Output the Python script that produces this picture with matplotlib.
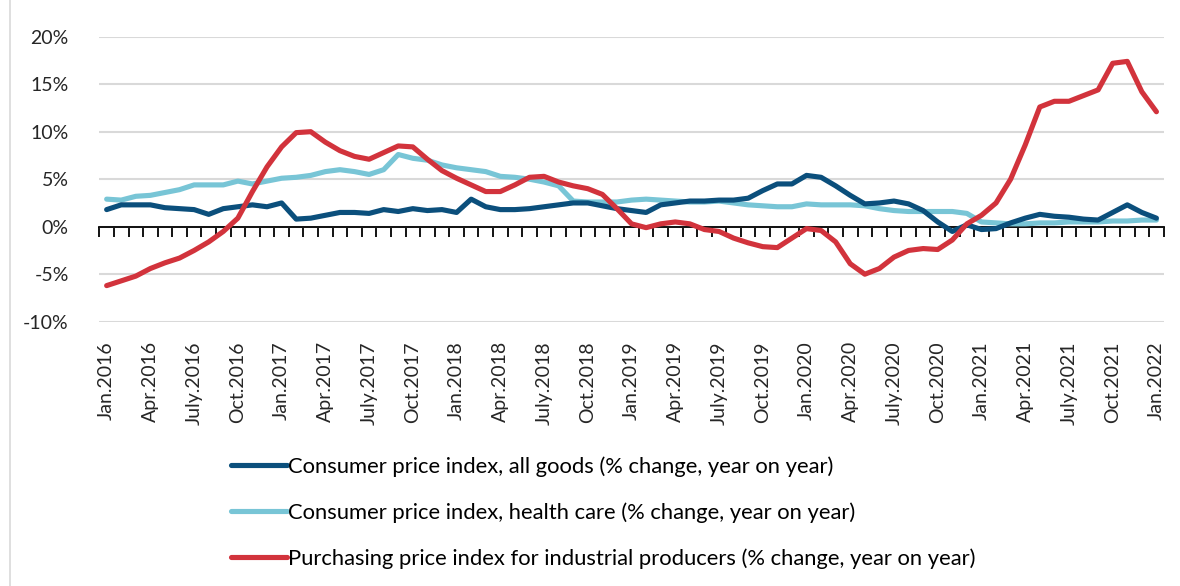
import matplotlib
matplotlib.use('Agg')
import matplotlib.pyplot as plt
import numpy as np
from matplotlib.lines import Line2D

# 月度数据: 2016年1月 - 2022年1月
cpi_all = [1.8, 2.3, 2.3, 2.3, 2.0, 1.9, 1.8, 1.3, 1.9, 2.1, 2.3, 2.1,
           2.5, 0.8, 0.9, 1.2, 1.5, 1.5, 1.4, 1.8, 1.6, 1.9, 1.7, 1.8,
           1.5, 2.9, 2.1, 1.8, 1.8, 1.9, 2.1, 2.3, 2.5, 2.5, 2.2, 1.9,
           1.7, 1.5, 2.3, 2.5, 2.7, 2.7, 2.8, 2.8, 3.0, 3.8, 4.5, 4.5,
           5.4, 5.2, 4.3, 3.3, 2.4, 2.5, 2.7, 2.4, 1.7, 0.5, -0.5, 0.2,
           -0.3, -0.2, 0.4, 0.9, 1.3, 1.1, 1.0, 0.8, 0.7, 1.5, 2.3, 1.5,
           0.9]
cpi_health = [2.9, 2.8, 3.2, 3.3, 3.6, 3.9, 4.4, 4.4, 4.4, 4.8, 4.5, 4.8,
              5.1, 5.2, 5.4, 5.8, 6.0, 5.8, 5.5, 6.0, 7.6, 7.2, 7.0, 6.5,
              6.2, 6.0, 5.8, 5.3, 5.2, 5.0, 4.7, 4.3, 2.7, 2.6, 2.6, 2.6,
              2.8, 2.9, 2.8, 2.7, 2.6, 2.6, 2.7, 2.5, 2.3, 2.2, 2.1, 2.1,
              2.4, 2.3, 2.3, 2.3, 2.2, 1.9, 1.7, 1.6, 1.6, 1.6, 1.6, 1.4,
              0.5, 0.4, 0.3, 0.3, 0.4, 0.4, 0.5, 0.5, 0.5, 0.6, 0.6, 0.7,
              0.7]
ppirm = [-6.2, -5.7, -5.2, -4.4, -3.8, -3.3, -2.5, -1.6, -0.5, 0.9, 3.7, 6.3,
         8.4, 9.9, 10.0, 8.9, 8.0, 7.4, 7.1, 7.8, 8.5, 8.4, 7.1, 5.9,
         5.1, 4.4, 3.7, 3.7, 4.4, 5.2, 5.3, 4.7, 4.3, 4.0, 3.4, 1.9,
         0.3, -0.1, 0.3, 0.5, 0.3, -0.3, -0.5, -1.2, -1.7, -2.1, -2.2, -1.2,
         -0.2, -0.4, -1.6, -3.9, -5.0, -4.4, -3.2, -2.5, -2.3, -2.4, -1.4, 0.3,
         1.2, 2.5, 5.0, 8.6, 12.6, 13.2, 13.2, 13.8, 14.4, 17.2, 17.4, 14.2,
         12.1]

months = ['Jan', 'Apr', 'July', 'Oct']
tick_labels = [f'{months[k % 4]}.{2016 + k // 4}' for k in range(25)]
labels = ['Consumer price index, all goods (% change, year on year)',
          'Consumer price index, health care (% change, year on year)',
          'Purchasing price index for industrial producers (% change, year on year)']
colors = ['#0b4f7c', '#78c5d6', '#d2333c']

plt.rcParams['font.family'] = ['Lato', 'DejaVu Sans']

fig = plt.figure(figsize=(11.8, 5.86), dpi=100)
ax = fig.add_axes([0.0842, 0.451, 0.902, 0.4864])

x = np.arange(len(cpi_all))
lines = []
for series, c, lab in zip([cpi_all, cpi_health, ppirm], colors, labels):
    ln, = ax.plot(x, series, color=c, lw=3.7, label=lab, solid_capstyle='round',
                  solid_joinstyle='round')
    lines.append(ln)
# 图层顺序: 红线在最上, 深蓝其次
lines[0].set_zorder(3)
lines[1].set_zorder(2)
lines[2].set_zorder(4)

ax.set_xlim(-0.5, len(x) - 0.5)
ax.set_ylim(-10, 20)
ax.set_yticks(np.arange(-10, 21, 5))
ax.set_yticklabels([f'{v}%' for v in range(-10, 21, 5)], fontsize=14, color='#262626')
ax.tick_params(axis='y', length=0, pad=22)
ax.grid(axis='y', color='#d9d9d9', lw=1.5)
ax.set_axisbelow(True)
for s in ['top', 'right', 'left']:
    ax.spines[s].set_visible(False)

# 横轴放在0位置, 刻度在类别之间
ax.spines['bottom'].set_position(('data', 0))
ax.spines['bottom'].set_color('black')
ax.spines['bottom'].set_linewidth(1.3)
ax.spines['bottom'].set_zorder(1)
ax.set_xticks(np.arange(-0.5, len(x), 1))
ax.set_xticklabels([])
ax.tick_params(axis='x', length=7, width=1.3, direction='out', color='black')

sec = ax.secondary_xaxis(location=0)
sec.set_xticks(np.arange(0, len(x), 3))
sec.set_xticklabels(tick_labels, rotation=90, fontsize=14, color='#262626')
sec.tick_params(length=0, pad=14)
sec.spines['bottom'].set_visible(False)

fig.legend(handles=lines, labels=labels, loc='upper left', bbox_to_anchor=(0.188, 0.236),
           frameon=False, fontsize=15.8, handlelength=2.55, handletextpad=0.08,
           labelspacing=1.16, borderaxespad=0)

# 图表外框左边线
fig.add_artist(Line2D([0.0085, 0.0085], [0, 1], transform=fig.transFigure,
                      color='#d9d9d9', lw=1.2))

fig.savefig('out.png', dpi=100)
